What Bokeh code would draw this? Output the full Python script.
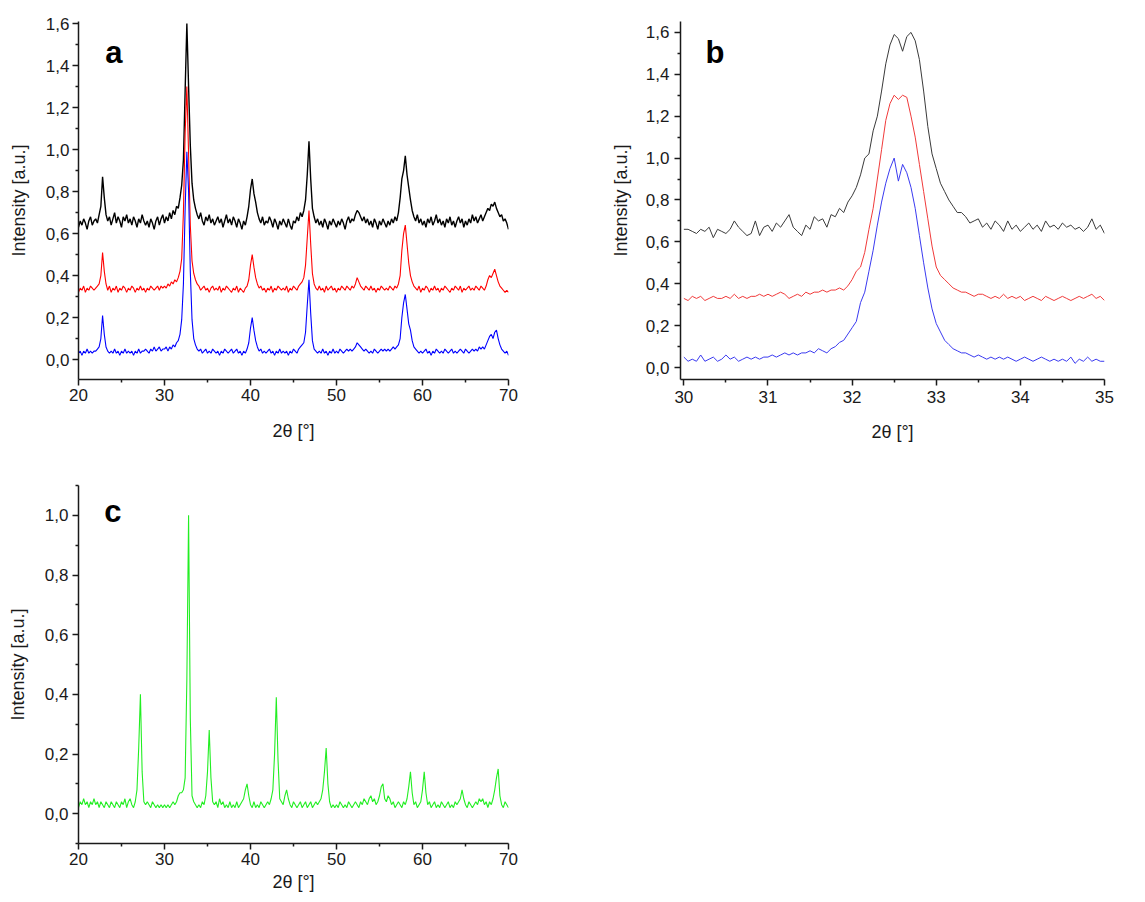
import numpy as np
from bokeh.plotting import figure
from bokeh.layouts import column, row
from bokeh.models import FixedTicker, CustomJSTickFormatter, Range1d, Label
from bokeh.embed import file_html
from bokeh.resources import INLINE

# ---------------- data ----------------
# Panel a: scan 20-70 deg, step 0.2 deg
A_START, A_STEP = 20.0, 0.2
A_BLACK = [
    0.63, 0.66, 0.64, 0.67, 0.65, 0.62, 0.66, 0.68, 0.64, 0.66,
    0.67, 0.65, 0.69, 0.73, 0.87, 0.77, 0.69, 0.66, 0.68, 0.64,
    0.67, 0.70, 0.65, 0.68, 0.66, 0.63, 0.68, 0.66, 0.69, 0.65,
    0.67, 0.64, 0.68, 0.66, 0.63, 0.67, 0.65, 0.69, 0.66, 0.64,
    0.66, 0.63, 0.67, 0.65, 0.62, 0.66, 0.68, 0.64, 0.67, 0.69,
    0.65, 0.68, 0.66, 0.70, 0.67, 0.71, 0.69, 0.73, 0.72, 0.77,
    0.83, 0.95, 1.28, 1.60, 1.30, 1.02, 0.84, 0.76, 0.72, 0.69,
    0.67, 0.70, 0.66, 0.64, 0.68, 0.66, 0.69, 0.65, 0.67, 0.64,
    0.66, 0.68, 0.65, 0.67, 0.63, 0.66, 0.69, 0.65, 0.67, 0.64,
    0.68, 0.66, 0.63, 0.67, 0.65, 0.62, 0.66, 0.64, 0.68, 0.73,
    0.81, 0.86, 0.79, 0.75, 0.70, 0.67, 0.65, 0.68, 0.64, 0.66,
    0.65, 0.68, 0.66, 0.63, 0.67, 0.65, 0.62, 0.66, 0.64, 0.67,
    0.65, 0.63, 0.67, 0.64, 0.62, 0.66, 0.65, 0.68, 0.66, 0.70,
    0.68, 0.71, 0.76, 0.88, 1.04, 0.86, 0.72, 0.68, 0.65, 0.67,
    0.64, 0.66, 0.63, 0.67, 0.65, 0.62, 0.66, 0.64, 0.67, 0.65,
    0.63, 0.66, 0.64, 0.67, 0.65, 0.62, 0.66, 0.68, 0.65, 0.67,
    0.66, 0.69, 0.71, 0.70, 0.68, 0.66, 0.68, 0.65, 0.67, 0.64,
    0.66, 0.63, 0.67, 0.65, 0.62, 0.66, 0.64, 0.67, 0.65, 0.63,
    0.66, 0.64, 0.67, 0.65, 0.68, 0.66, 0.70, 0.77, 0.86, 0.90,
    0.97, 0.88, 0.82, 0.76, 0.71, 0.68, 0.66, 0.69, 0.65, 0.67,
    0.64, 0.66, 0.63, 0.67, 0.65, 0.68, 0.64, 0.66, 0.69, 0.65,
    0.67, 0.64, 0.66, 0.63, 0.67, 0.65, 0.68, 0.64, 0.66, 0.63,
    0.66, 0.68, 0.65, 0.67, 0.63, 0.66, 0.64, 0.67, 0.65, 0.69,
    0.66, 0.68, 0.65, 0.67, 0.69, 0.66, 0.68, 0.70, 0.72, 0.71,
    0.74, 0.73, 0.75, 0.72, 0.70, 0.68, 0.69, 0.66, 0.67, 0.65,
    0.62,
]
A_RED = [
    0.32, 0.34, 0.33, 0.35, 0.32, 0.34, 0.33, 0.35, 0.34, 0.33,
    0.34, 0.35, 0.36, 0.40, 0.51, 0.42, 0.36, 0.33, 0.35, 0.32,
    0.34, 0.33, 0.35, 0.32, 0.34, 0.33, 0.35, 0.34, 0.32, 0.34,
    0.33, 0.35, 0.34, 0.32, 0.34, 0.33, 0.35, 0.33, 0.34, 0.32,
    0.34, 0.33, 0.35, 0.34, 0.33, 0.34, 0.35, 0.33, 0.35, 0.34,
    0.35, 0.34, 0.36, 0.35, 0.37, 0.36, 0.38, 0.37, 0.39, 0.42,
    0.48, 0.70, 1.08, 1.30, 0.98, 0.64, 0.47, 0.41, 0.38, 0.36,
    0.35, 0.33, 0.34, 0.35, 0.33, 0.34, 0.32, 0.34, 0.35, 0.33,
    0.34, 0.33, 0.35, 0.32, 0.34, 0.33, 0.35, 0.34, 0.33, 0.32,
    0.34, 0.33, 0.35, 0.32, 0.34, 0.33, 0.32, 0.34, 0.35, 0.38,
    0.45, 0.50, 0.44, 0.39, 0.36, 0.34, 0.35, 0.33, 0.34, 0.32,
    0.34, 0.33, 0.35, 0.32, 0.34, 0.33, 0.35, 0.34, 0.33, 0.34,
    0.33, 0.35, 0.32, 0.34, 0.33, 0.35, 0.34, 0.33, 0.35, 0.36,
    0.37, 0.39, 0.45, 0.58, 0.71, 0.55, 0.41, 0.36, 0.34, 0.33,
    0.35, 0.33, 0.34, 0.32, 0.35, 0.33, 0.34, 0.35, 0.33, 0.34,
    0.32, 0.34, 0.33, 0.35, 0.34, 0.33, 0.35, 0.34, 0.33, 0.35,
    0.34, 0.36, 0.39, 0.37, 0.35, 0.34, 0.33, 0.35, 0.34, 0.33,
    0.35, 0.33, 0.34, 0.32, 0.34, 0.33, 0.35, 0.34, 0.33, 0.34,
    0.33, 0.35, 0.34, 0.33, 0.35, 0.34, 0.36, 0.40, 0.52, 0.60,
    0.64, 0.55, 0.46, 0.40, 0.37, 0.35, 0.34, 0.33, 0.35, 0.32,
    0.34, 0.33, 0.35, 0.34, 0.32, 0.34, 0.33, 0.35, 0.33, 0.34,
    0.32, 0.34, 0.33, 0.35, 0.34, 0.33, 0.32, 0.34, 0.33, 0.35,
    0.34, 0.33, 0.35, 0.32, 0.34, 0.33, 0.34, 0.35, 0.33, 0.34,
    0.33, 0.35, 0.34, 0.33, 0.35, 0.34, 0.33, 0.35, 0.38, 0.40,
    0.39, 0.41, 0.43, 0.40, 0.37, 0.35, 0.34, 0.33, 0.32, 0.33,
    0.32,
]
A_BLUE = [
    0.03, 0.04, 0.02, 0.04, 0.03, 0.05, 0.03, 0.04, 0.03, 0.04,
    0.04, 0.05, 0.06, 0.10, 0.21, 0.12, 0.06, 0.04, 0.03, 0.04,
    0.03, 0.05, 0.03, 0.04, 0.02, 0.04, 0.03, 0.05, 0.03, 0.04,
    0.03, 0.04, 0.02, 0.04, 0.03, 0.05, 0.03, 0.04, 0.04, 0.05,
    0.04, 0.03, 0.05, 0.04, 0.06, 0.04, 0.05, 0.06, 0.04, 0.05,
    0.05, 0.06, 0.04, 0.06, 0.05, 0.07, 0.06, 0.08, 0.09, 0.12,
    0.19, 0.36, 0.72, 0.99, 0.80, 0.42, 0.19, 0.10, 0.07, 0.05,
    0.04, 0.05, 0.03, 0.04, 0.05, 0.03, 0.04, 0.03, 0.05, 0.04,
    0.03, 0.04, 0.02, 0.04, 0.03, 0.05, 0.04, 0.03, 0.04, 0.05,
    0.03, 0.04, 0.05, 0.03, 0.04, 0.02, 0.04, 0.03, 0.05, 0.08,
    0.15, 0.20, 0.14, 0.09, 0.06, 0.04, 0.05, 0.03, 0.04, 0.03,
    0.04, 0.05, 0.03, 0.04, 0.02, 0.04, 0.03, 0.05, 0.03, 0.04,
    0.03, 0.04, 0.02, 0.04, 0.03, 0.05, 0.04, 0.03, 0.05, 0.06,
    0.07, 0.08, 0.13, 0.26, 0.38, 0.22, 0.09, 0.05, 0.04, 0.03,
    0.04, 0.03, 0.05, 0.03, 0.04, 0.02, 0.04, 0.03, 0.05, 0.03,
    0.04, 0.03, 0.05, 0.04, 0.03, 0.04, 0.05, 0.04, 0.05, 0.04,
    0.05, 0.06, 0.08, 0.07, 0.06, 0.05, 0.04, 0.05, 0.04, 0.03,
    0.04, 0.03, 0.05, 0.04, 0.03, 0.04, 0.05, 0.04, 0.05, 0.04,
    0.05, 0.04, 0.05, 0.06, 0.05, 0.06, 0.07, 0.10, 0.20, 0.27,
    0.31, 0.24, 0.17, 0.14, 0.09, 0.06, 0.05, 0.04, 0.03, 0.04,
    0.03, 0.04, 0.05, 0.03, 0.04, 0.02, 0.04, 0.03, 0.05, 0.04,
    0.03, 0.04, 0.03, 0.05, 0.04, 0.03, 0.04, 0.05, 0.03, 0.04,
    0.03, 0.04, 0.05, 0.04, 0.03, 0.05, 0.04, 0.03, 0.04, 0.05,
    0.04, 0.05, 0.04, 0.06, 0.05, 0.06, 0.05, 0.07, 0.09, 0.11,
    0.12, 0.10, 0.13, 0.14, 0.10, 0.07, 0.05, 0.04, 0.03, 0.04,
    0.02,
]

# Panel b: scan 30-35 deg, step 0.05 deg
B_START, B_STEP = 30.0, 0.05
B_BLACK = [
    0.66, 0.66, 0.65, 0.64, 0.66, 0.65, 0.67, 0.62, 0.66, 0.65,
    0.64, 0.66, 0.70, 0.67, 0.65, 0.63, 0.64, 0.70, 0.63, 0.67,
    0.68, 0.65, 0.69, 0.67, 0.70, 0.73, 0.67, 0.65, 0.63, 0.68,
    0.66, 0.72, 0.70, 0.71, 0.67, 0.73, 0.72, 0.76, 0.74, 0.79,
    0.82, 0.86, 0.92, 1.00, 1.02, 1.13, 1.20, 1.32, 1.45, 1.54,
    1.59, 1.57, 1.51, 1.58, 1.60, 1.56, 1.47, 1.32, 1.15, 1.02,
    0.95, 0.88, 0.84, 0.80, 0.77, 0.74, 0.74, 0.72, 0.69, 0.70,
    0.71, 0.67, 0.69, 0.66, 0.70, 0.68, 0.65, 0.70, 0.66, 0.68,
    0.65, 0.67, 0.69, 0.66, 0.68, 0.65, 0.70, 0.67, 0.68, 0.66,
    0.69, 0.67, 0.68, 0.66, 0.67, 0.65, 0.67, 0.71, 0.66, 0.68,
    0.64,
]
B_RED = [
    0.33, 0.32, 0.34, 0.33, 0.34, 0.32, 0.33, 0.34, 0.33, 0.33,
    0.34, 0.33, 0.35, 0.33, 0.34, 0.33, 0.34, 0.34, 0.35, 0.34,
    0.35, 0.34, 0.35, 0.36, 0.35, 0.33, 0.34, 0.35, 0.34, 0.36,
    0.35, 0.36, 0.36, 0.37, 0.36, 0.37, 0.37, 0.38, 0.37, 0.39,
    0.42, 0.46, 0.48, 0.55, 0.66, 0.76, 0.90, 1.04, 1.18, 1.26,
    1.30, 1.28, 1.30, 1.29, 1.20, 1.10, 0.97, 0.84, 0.71, 0.58,
    0.48, 0.44, 0.42, 0.40, 0.38, 0.37, 0.36, 0.36, 0.35, 0.34,
    0.35, 0.35, 0.34, 0.33, 0.34, 0.33, 0.35, 0.33, 0.34, 0.33,
    0.34, 0.32, 0.33, 0.34, 0.33, 0.32, 0.34, 0.33, 0.32, 0.33,
    0.34, 0.33, 0.32, 0.33, 0.34, 0.33, 0.34, 0.35, 0.33, 0.34,
    0.32,
]
B_BLUE = [
    0.05, 0.03, 0.04, 0.03, 0.06, 0.03, 0.04, 0.05, 0.03, 0.04,
    0.06, 0.04, 0.05, 0.03, 0.04, 0.05, 0.04, 0.05, 0.04, 0.05,
    0.05, 0.06, 0.05, 0.06, 0.07, 0.06, 0.07, 0.06, 0.07, 0.07,
    0.08, 0.07, 0.09, 0.08, 0.07, 0.09, 0.10, 0.12, 0.13, 0.16,
    0.19, 0.22, 0.31, 0.36, 0.46, 0.56, 0.68, 0.79, 0.88, 0.95,
    1.00, 0.89, 0.97, 0.93, 0.86, 0.76, 0.63, 0.50, 0.38, 0.28,
    0.21, 0.17, 0.13, 0.11, 0.09, 0.08, 0.07, 0.07, 0.06, 0.05,
    0.06, 0.05, 0.04, 0.05, 0.04, 0.05, 0.04, 0.05, 0.04, 0.03,
    0.04, 0.05, 0.04, 0.03, 0.04, 0.05, 0.04, 0.03, 0.04, 0.03,
    0.04, 0.03, 0.05, 0.02, 0.04, 0.03, 0.05, 0.03, 0.04, 0.03,
    0.03,
]

# Panel c: scan 20-70 deg, step 0.2 deg
C_START, C_STEP = 20.0, 0.2
C_GREEN = [
    0.02, 0.04, 0.03, 0.05, 0.03, 0.04, 0.02, 0.04, 0.03, 0.05,
    0.03, 0.04, 0.02, 0.04, 0.03, 0.02, 0.04, 0.03, 0.02, 0.04,
    0.03, 0.02, 0.04, 0.03, 0.02, 0.04, 0.03, 0.05, 0.02, 0.04,
    0.05, 0.03, 0.02, 0.04, 0.08, 0.22, 0.40, 0.14, 0.04, 0.03,
    0.04, 0.03, 0.02, 0.04, 0.03, 0.02, 0.03, 0.02, 0.03, 0.02,
    0.03, 0.02, 0.03, 0.02, 0.03, 0.04, 0.03, 0.04, 0.06, 0.07,
    0.07, 0.08, 0.12, 0.45, 1.00, 0.32, 0.06, 0.04, 0.03, 0.02,
    0.03, 0.02, 0.04, 0.03, 0.06, 0.14, 0.28, 0.12, 0.04, 0.03,
    0.04, 0.02, 0.05, 0.03, 0.04, 0.02, 0.03, 0.02, 0.04, 0.02,
    0.03, 0.02, 0.04, 0.02, 0.03, 0.04, 0.05, 0.08, 0.10, 0.06,
    0.03, 0.02, 0.04, 0.02, 0.03, 0.02, 0.04, 0.03, 0.02, 0.03,
    0.04, 0.03, 0.05, 0.08, 0.20, 0.39, 0.18, 0.05, 0.04, 0.03,
    0.06, 0.08, 0.05, 0.03, 0.02, 0.04, 0.03, 0.02, 0.03, 0.04,
    0.02, 0.03, 0.04, 0.02, 0.03, 0.04, 0.02, 0.03, 0.04, 0.03,
    0.04, 0.05, 0.08, 0.14, 0.22, 0.10, 0.04, 0.02, 0.03, 0.02,
    0.03, 0.02, 0.04, 0.03, 0.02, 0.03, 0.02, 0.04, 0.03, 0.02,
    0.03, 0.04, 0.03, 0.02, 0.04, 0.03, 0.05, 0.04, 0.03, 0.05,
    0.06, 0.04, 0.05, 0.03, 0.04, 0.06, 0.09, 0.10, 0.05, 0.04,
    0.06, 0.05, 0.03, 0.04, 0.02, 0.03, 0.04, 0.03, 0.02, 0.04,
    0.03, 0.05, 0.09, 0.14, 0.07, 0.03, 0.04, 0.02, 0.03, 0.04,
    0.08, 0.14, 0.07, 0.03, 0.04, 0.02, 0.03, 0.04, 0.02, 0.03,
    0.02, 0.04, 0.03, 0.02, 0.03, 0.04, 0.02, 0.03, 0.02, 0.04,
    0.03, 0.04, 0.05, 0.08, 0.05, 0.03, 0.02, 0.04, 0.03, 0.02,
    0.03, 0.04, 0.03, 0.05, 0.04, 0.05, 0.03, 0.04, 0.02, 0.04,
    0.03, 0.05, 0.08, 0.12, 0.15, 0.06, 0.03, 0.02, 0.04, 0.03,
    0.02,
]

# ticks
AC_XTICKS = [20, 30, 40, 50, 60, 70]
AC_XMINOR = [25, 35, 45, 55, 65]
B_XTICKS = [30, 31, 32, 33, 34, 35]
B_XMINOR = [30.5, 31.5, 32.5, 33.5, 34.5]
AB_YTICKS = [0.0, 0.2, 0.4, 0.6, 0.8, 1.0, 1.2, 1.4, 1.6]
AB_YMINOR = [0.1, 0.3, 0.5, 0.7, 0.9, 1.1, 1.3, 1.5]
C_YTICKS = [0.0, 0.2, 0.4, 0.6, 0.8, 1.0]
C_YMINOR = [-0.1, 0.1, 0.3, 0.5, 0.7, 0.9, 1.1]

X_LABEL = "2θ [°]"
Y_LABEL = "Intensity [a.u.]"

FONT = "Liberation Sans"
INK = "#1a1a1a"


def scan(start, step, values):
    return start + step * np.arange(len(values))


def make_panel(width, height, xr, yr, borders, xticks, xminor, yticks, yminor,
               xtick_std, ytick_std, xlab_std, ylab_std, tick_px, lab_px):
    p = figure(width=width, height=height,
               x_range=Range1d(*xr), y_range=Range1d(*yr),
               output_backend="svg", toolbar_location=None,
               min_border_left=borders[0], min_border_right=borders[1],
               min_border_top=borders[2], min_border_bottom=borders[3],
               x_axis_label=X_LABEL, y_axis_label=Y_LABEL)
    p.xgrid.visible = False
    p.ygrid.visible = False
    p.outline_line_color = None
    for ax in (p.xaxis[0], p.yaxis[0]):
        ax.axis_line_width = 1.5
        ax.axis_line_color = INK
        ax.major_tick_line_width = 1.5
        ax.minor_tick_line_width = 1.5
        ax.major_tick_line_color = INK
        ax.minor_tick_line_color = INK
        ax.major_tick_in = 0
        ax.major_tick_out = 6
        ax.minor_tick_in = 0
        ax.minor_tick_out = 3
        ax.major_label_text_font = FONT
        ax.major_label_text_font_size = f"{tick_px}px"
        ax.major_label_text_color = INK
        ax.axis_label_text_font = FONT
        ax.axis_label_text_font_size = f"{lab_px}px"
        ax.axis_label_text_font_style = "normal"
        ax.axis_label_text_color = INK
    p.xaxis[0].ticker = FixedTicker(ticks=xticks, minor_ticks=xminor)
    p.yaxis[0].ticker = FixedTicker(ticks=yticks, minor_ticks=yminor)
    p.yaxis[0].formatter = CustomJSTickFormatter(
        code="return tick.toFixed(1).replace('.', ',');")
    p.xaxis[0].major_label_standoff = xtick_std
    p.yaxis[0].major_label_standoff = ytick_std
    p.xaxis[0].axis_label_standoff = xlab_std
    p.yaxis[0].axis_label_standoff = ylab_std
    return p


def panel_letter(p, x, y, text):
    p.add_layout(Label(x=x, y=y, text=text, text_font=FONT,
                       text_font_style="bold", text_font_size="31px",
                       text_color="black", text_align="center",
                       text_baseline="alphabetic"))


# ---------------- panel a ----------------
pa = make_panel(588, 468, (20, 70), (-0.095, 1.61), (78, 80, 21, 89),
                AC_XTICKS, AC_XMINOR, AB_YTICKS, AB_YMINOR,
                3, 3, 17, 14, 17, 18)
pa.line(scan(A_START, A_STEP, A_BLACK), A_BLACK, line_color="black", line_width=1.4)
pa.line(scan(A_START, A_STEP, A_RED), A_RED, line_color="#ff0000", line_width=1.1)
pa.line(scan(A_START, A_STEP, A_BLUE), A_BLUE, line_color="#0000ff", line_width=1.1)
panel_letter(pa, 24.1, 1.46, "a")

# ---------------- panel b ----------------
pb = make_panel(549, 468, (29.96, 35.0), (-0.057, 1.652), (92, 33, 21, 86),
                B_XTICKS, B_XMINOR, AB_YTICKS, AB_YMINOR,
                5, 5, 16, 12, 17, 18)
pb.line(scan(B_START, B_STEP, B_BLACK), B_BLACK, line_color="#3a3a3a", line_width=1)
pb.line(scan(B_START, B_STEP, B_RED), B_RED, line_color="#f03a3a", line_width=1)
pb.line(scan(B_START, B_STEP, B_BLUE), B_BLUE, line_color="#3a3af0", line_width=1)
panel_letter(pb, 30.37, 1.505, "b")

# ---------------- panel c ----------------
pc = make_panel(588, 428, (20, 70), (-0.1, 1.1), (78, 80, 17, 53),
                AC_XTICKS, AC_XMINOR, C_YTICKS, C_YMINOR,
                3, 4, 4, 14, 17, 18)
pc.line(scan(C_START, C_STEP, C_GREEN), C_GREEN, line_color="#22ee22", line_width=1.1)
panel_letter(pc, 24.0, 1.013, "c")

layout = column(row(pa, pb), pc)
open("out.html", "w").write(file_html(layout, INLINE))
